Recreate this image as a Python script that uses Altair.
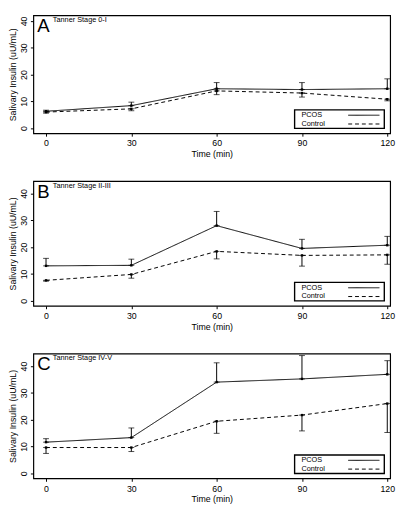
import altair as alt
import pandas as pd

times = [0, 30, 60, 90, 120]
groups = ["PCOS", "Control"]
panel_letters = ["A", "B", "C"]
stage_labels = ["Tanner Stage 0-I", "Tanner Stage II-III", "Tanner Stage IV-V"]

pcos_A = [6.3, 8.4, 14.7, 14.4, 14.7]
pcos_A_err = [0.4, 1.3, 2.3, 2.6, 3.7]
ctrl_A = [6.0, 7.2, 13.9, 13.1, 10.8]
ctrl_A_err = [0.4, 0.7, 1.4, 1.5, 0.6]

pcos_B = [13.0, 13.2, 28.0, 19.5, 20.7]
pcos_B_err = [2.8, 2.3, 5.3, 3.4, 3.3]
ctrl_B = [7.6, 9.8, 18.4, 16.9, 17.1]
ctrl_B_err = [0.3, 1.4, 2.8, 4.0, 3.5]

pcos_C = [11.6, 13.3, 34.0, 35.2, 36.9]
pcos_C_err = [1.3, 3.6, 7.2, 8.7, 5.1]
ctrl_C = [9.6, 9.6, 19.4, 21.7, 26.0]
ctrl_C_err = [2.2, 1.5, 4.5, 5.9, 10.8]

y_ticks = [0, 10, 20, 30, 40]
x_title = "Time (min)"
y_title = "Salivary Insulin (uU/mL)"

FONT = "Liberation Sans"
W = 366
PX_PER_MIN = 2.917
X_DOMAIN = [-4.46, -4.46 + W / PX_PER_MIN]
PX_PER_UNIT = 2.75
Y_LOW = -1.9
heights = [121, 128, 128]
BLACK = alt.value("black")


def panel(letter, stage, pcos, pcos_err, ctrl, ctrl_err, h):
    rows = []
    for t, m, e in zip(times, pcos, pcos_err):
        rows.append({"time": t, "value": m, "group": "PCOS", "lo": m, "hi": m + e})
    for t, m, e in zip(times, ctrl, ctrl_err):
        rows.append({"time": t, "value": m, "group": "Control", "lo": m - e, "hi": m})
    df = pd.DataFrame(rows)
    y_top = Y_LOW + h / PX_PER_UNIT

    xs = alt.Scale(domain=X_DOMAIN, nice=False, zero=False)
    ys = alt.Scale(domain=[Y_LOW, y_top], nice=False, zero=False)
    x_axis = alt.Axis(values=times, format="d", labelOverlap=False, title=x_title)
    y_axis = alt.Axis(values=y_ticks, format="d", labelOverlap=False, title=y_title)

    def X(field):
        return alt.X(field, type="quantitative", scale=xs, axis=x_axis)

    def Y(field):
        return alt.Y(field, type="quantitative", scale=ys, axis=y_axis)

    base = alt.Chart(df)
    line = base.mark_line(strokeWidth=1).encode(
        x=X("time"),
        y=Y("value"),
        strokeDash=alt.StrokeDash("group:N", scale=alt.Scale(domain=groups, range=[[1, 0], [4, 3]]), legend=None),
        detail="group:N",
        color=BLACK,
    )
    rule = base.mark_rule(strokeWidth=1).encode(
        x=X("time"), y=Y("lo"), y2="hi:Q", color=BLACK)
    cap_lo = base.mark_tick(orient="horizontal", size=6, thickness=1).encode(
        x=X("time"), y=Y("lo"), color=BLACK)
    cap_hi = base.mark_tick(orient="horizontal", size=6, thickness=1).encode(
        x=X("time"), y=Y("hi"), color=BLACK)
    pts = base.mark_point(filled=True, size=6, opacity=1, shape="square").encode(
        x=X("time"), y=Y("value"), color=BLACK)

    one = pd.DataFrame({"letter": [letter], "stage": [stage]})
    ann = alt.Chart(one)
    letter_txt = ann.mark_text(align="left", baseline="top", fontSize=19, font=FONT).encode(
        x=alt.value(4), y=alt.value(2), text="letter:N", color=BLACK)
    stage_txt = ann.mark_text(align="left", baseline="top", fontSize=7.5, font=FONT).encode(
        x=alt.value(20), y=alt.value(1), text="stage:N", color=BLACK)

    # legend box
    bx0, bx1 = W - 98, W - 6
    box = ann.mark_rect(strokeWidth=1.4).encode(
        x=alt.value(bx0), x2=alt.value(bx1), y=alt.value(h - 24), y2=alt.value(h - 5),
        fill=alt.value("white"), stroke=BLACK)
    leg_layers = []
    for i, g in enumerate(groups):
        yy = h - 18.5 + i * 9
        gdf = pd.DataFrame({"group": [g]})
        leg_layers.append(
            alt.Chart(gdf).mark_text(align="left", baseline="middle", fontSize=7.5, font=FONT).encode(
                x=alt.value(bx0 + 7), y=alt.value(yy), text="group:N", color=BLACK)
        )
        leg_layers.append(
            alt.Chart(gdf).mark_rule(strokeWidth=1, strokeDash=[1, 0] if i == 0 else [4, 3]).encode(
                x=alt.value(bx0 + 55), x2=alt.value(bx0 + 87), y=alt.value(yy), color=BLACK)
        )

    return alt.layer(line, rule, cap_lo, cap_hi, pts, letter_txt, stage_txt, box, *leg_layers).properties(
        width=W, height=h)


pA = panel(panel_letters[0], stage_labels[0], pcos_A, pcos_A_err, ctrl_A, ctrl_A_err, heights[0])
pB = panel(panel_letters[1], stage_labels[1], pcos_B, pcos_B_err, ctrl_B, ctrl_B_err, heights[1])
pC = panel(panel_letters[2], stage_labels[2], pcos_C, pcos_C_err, ctrl_C, ctrl_C_err, heights[2])

chart = alt.vconcat(pA, pB, pC, spacing=49, bounds="flush").properties(
    padding=0
).configure_view(
    stroke="black", strokeWidth=1.2
).configure_axis(
    grid=False, domain=False, ticks=True, tickColor="black", tickSize=3, tickWidth=1,
    labelFont=FONT, labelFontSize=9, labelColor="black", labelOverlap=False,
    titleFont=FONT, titleFontSize=9, titleFontWeight="normal", titleColor="black",
).configure_axisX(
    labelPadding=3, titlePadding=2,
).configure_axisY(
    labelAngle=270, labelAlign="center", labelBaseline="bottom", labelPadding=2, titlePadding=2,
)

chart.save("out.html", embed_options={"renderer": "svg", "actions": False})
